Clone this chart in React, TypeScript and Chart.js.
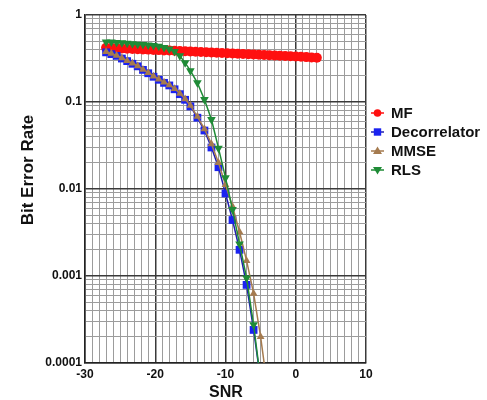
import React, { useEffect, useRef } from 'react';
import { Chart, registerables } from 'chart.js';

Chart.register(...registerables);

// ---- data ----
const snrMF = [-27, -26.25, -25.5, -24.75, -24, -23.25, -22.5, -21.75, -21, -20.25, -19.5, -18.75, -18, -17.25, -16.5, -15.75, -15, -14.25, -13.5, -12.75, -12, -11.25, -10.5, -9.75, -9, -8.25, -7.5, -6.75, -6, -5.25, -4.5, -3.75, -3, -2.25, -1.5, -0.75, 0, 0.75, 1.5, 2.25, 3];
const berMF = [0.42, 0.418, 0.415, 0.413, 0.41, 0.407, 0.405, 0.402, 0.4, 0.397, 0.395, 0.392, 0.39, 0.388, 0.385, 0.383, 0.38, 0.378, 0.376, 0.373, 0.371, 0.369, 0.366, 0.364, 0.362, 0.359, 0.357, 0.355, 0.352, 0.35, 0.348, 0.345, 0.343, 0.341, 0.338, 0.336, 0.333, 0.331, 0.328, 0.325, 0.322];

const snrDetectors = [-27, -26.25, -25.5, -24.75, -24, -23.25, -22.5, -21.75, -21, -20.25, -19.5, -18.75, -18, -17.25, -16.5, -15.75, -15, -14, -13, -12, -11, -10, -9, -8, -7, -6, -5];
const berDecorrelator = [0.372, 0.355, 0.339, 0.316, 0.295, 0.275, 0.257, 0.234, 0.214, 0.195, 0.18, 0.166, 0.155, 0.14, 0.123, 0.106, 0.089, 0.066, 0.047, 0.03, 0.0178, 0.0089, 0.0044, 0.002, 0.00079, 0.00024, 0.000063];
const berRLS = [0.49, 0.488, 0.484, 0.479, 0.473, 0.468, 0.462, 0.457, 0.452, 0.447, 0.437, 0.422, 0.407, 0.38, 0.339, 0.282, 0.229, 0.166, 0.107, 0.063, 0.0295, 0.0135, 0.0058, 0.00234, 0.00095, 0.000275, 0.000063];

const snrMMSE = [-27, -26.25, -25.5, -24.75, -24, -23.25, -22.5, -21.75, -21, -20.25, -19.5, -18.75, -18, -17.25, -16.5, -15.75, -15, -14, -13, -12, -11, -10, -9, -8, -7, -6, -5, -4];
const berMMSE = [0.378, 0.36, 0.343, 0.32, 0.298, 0.278, 0.26, 0.237, 0.217, 0.198, 0.183, 0.169, 0.157, 0.142, 0.125, 0.108, 0.091, 0.068, 0.049, 0.033, 0.02, 0.0112, 0.0063, 0.0032, 0.0015, 0.00063, 0.0002, 0.00005];

const xMajorTicks = [-30, -20, -10, 0, 10];
const yDecadeTicks = [0.0001, 0.001, 0.01, 0.1, 1];
const seriesNames = ['MF', 'Decorrelator', 'MMSE', 'RLS'];
const xTitle = 'SNR';
const yTitle = 'Bit Error Rate';

const COLORS = {
  MF: '#ff1010',
  Decorrelator: '#1a22f0',
  DecorrelatorLine: '#2020b0',
  MMSE: '#a57b4f',
  RLS: '#1f8b36',
};
const FONT = '"Liberation Sans", Arial, Helvetica, sans-serif';

const pts = (xs: number[], ys: number[]) => xs.map((x, i) => ({ x, y: ys[i] }));

const isDecade = (v: number) => {
  const l = Math.log10(v);
  return Math.abs(l - Math.round(l)) < 1e-6;
};

// minor tick positions built from the decade labels
const yAllTicks: number[] = [];
for (let i = 0; i < yDecadeTicks.length - 1; i++) {
  for (let s = 1; s <= 9; s++) yAllTicks.push(Number((s * yDecadeTicks[i]).toPrecision(6)));
}
yAllTicks.push(yDecadeTicks[yDecadeTicks.length - 1]);
const xAllTicks: number[] = [];
for (let v = xMajorTicks[0]; v <= xMajorTicks[xMajorTicks.length - 1]; v++) xAllTicks.push(v);

function drawMarker(ctx: CanvasRenderingContext2D, kind: string, x: number, y: number, color: string) {
  ctx.fillStyle = color;
  ctx.beginPath();
  if (kind === 'circle') {
    ctx.arc(x, y, 3.8, 0, Math.PI * 2);
  } else if (kind === 'rect') {
    ctx.rect(x - 3.7, y - 3.7, 7.4, 7.4);
  } else if (kind === 'up') {
    ctx.moveTo(x, y - 4.5);
    ctx.lineTo(x + 4.5, y + 3);
    ctx.lineTo(x - 4.5, y + 3);
    ctx.closePath();
  } else {
    ctx.moveTo(x, y + 4.5);
    ctx.lineTo(x + 4.5, y - 3);
    ctx.lineTo(x - 4.5, y - 3);
    ctx.closePath();
  }
  ctx.fill();
}

const overlayPlugin = {
  id: 'overlay',
  afterDraw(chart: any) {
    const ctx: CanvasRenderingContext2D = chart.ctx;
    ctx.save();
    // legend
    const kinds = ['circle', 'rect', 'up', 'down'];
    const cols = [COLORS.MF, COLORS.Decorrelator, COLORS.MMSE, COLORS.RLS];
    const lineCols = [COLORS.MF, COLORS.DecorrelatorLine, COLORS.MMSE, COLORS.RLS];
    const ys = [113, 132, 151, 170];
    ctx.font = `bold 15px ${FONT}`;
    ctx.textBaseline = 'middle';
    ctx.textAlign = 'left';
    seriesNames.forEach((name, i) => {
      ctx.strokeStyle = lineCols[i];
      ctx.lineWidth = 1.5;
      ctx.beginPath();
      ctx.moveTo(371, ys[i]);
      ctx.lineTo(384, ys[i]);
      ctx.stroke();
      drawMarker(ctx, kinds[i], 377.5, ys[i], cols[i]);
      ctx.fillStyle = '#111';
      ctx.fillText(name, 391, ys[i] + 1);
    });
    // axis titles
    ctx.fillStyle = '#111';
    ctx.font = `bold 16px ${FONT}`;
    ctx.textAlign = 'center';
    ctx.fillText(xTitle, 226, 393);
    ctx.translate(28, 170);
    ctx.rotate(-Math.PI / 2);
    ctx.font = `bold 17px ${FONT}`;
    ctx.fillText(yTitle, 0, 0);
    ctx.restore();
  },
};

export default function App() {
  const ref = useRef<HTMLCanvasElement>(null);
  useEffect(() => {
    document.body.style.margin = '0';
    const canvas = ref.current!;
    const common = { tension: 0, borderWidth: 1.5, pointBorderWidth: 0 };
    const chart = new Chart(canvas, {
      type: 'line',
      data: {
        datasets: [
          {
            label: seriesNames[0], data: pts(snrMF, berMF), ...common,
            borderColor: COLORS.MF, backgroundColor: COLORS.MF,
            pointStyle: 'circle', pointRadius: 5, order: 3,
          },
          {
            label: seriesNames[1], data: pts(snrDetectors, berDecorrelator), ...common,
            borderColor: COLORS.DecorrelatorLine, backgroundColor: COLORS.Decorrelator,
            pointStyle: 'rect', pointRadius: 5.5, order: 2,
          },
          {
            label: seriesNames[2], data: pts(snrMMSE, berMMSE), ...common,
            borderColor: COLORS.MMSE, backgroundColor: COLORS.MMSE,
            pointStyle: 'triangle', pointRadius: 4.5, order: 1,
          },
          {
            label: seriesNames[3], data: pts(snrDetectors, berRLS), ...common,
            borderColor: COLORS.RLS, backgroundColor: COLORS.RLS,
            pointStyle: 'triangle', pointRotation: 180, pointRadius: 5, order: 0,
          },
        ] as any,
      },
      options: {
        animation: false,
        responsive: false,
        maintainAspectRatio: false,
        layout: { padding: { top: 15, right: 121, left: 0, bottom: 0 } },
        plugins: { legend: { display: false }, tooltip: { enabled: false } },
        scales: {
          x: {
            type: 'linear',
            min: xMajorTicks[0],
            max: xMajorTicks[xMajorTicks.length - 1],
            afterBuildTicks: (scale: any) => { scale.ticks = xAllTicks.map((v) => ({ value: v })); },
            afterFit: (scale: any) => { scale.height = 37; },
            ticks: {
              autoSkip: false,
              maxRotation: 0,
              padding: 4,
              color: '#111',
              font: { family: FONT, size: 12, weight: 'bold' },
              callback: (v: any) => (xMajorTicks.includes(Number(v)) ? String(v) : ''),
            },
            grid: {
              drawTicks: false,
              color: (c: any) => (c.tick && xMajorTicks.includes(c.tick.value) ? '#3a3a3a' : '#9c9c9c'),
              lineWidth: (c: any) => (c.tick && xMajorTicks.includes(c.tick.value) ? 1.5 : 1),
            },
            border: { display: true, color: '#222', width: 1.5 },
          },
          y: {
            type: 'logarithmic',
            min: yDecadeTicks[0],
            max: yDecadeTicks[yDecadeTicks.length - 1],
            afterBuildTicks: (scale: any) => { scale.ticks = yAllTicks.map((v) => ({ value: v })); },
            afterFit: (scale: any) => { scale.width = 85; },
            ticks: {
              autoSkip: false,
              padding: 3,
              color: '#111',
              font: { family: FONT, size: 12, weight: 'bold' },
              callback: (v: any) => (isDecade(Number(v)) ? String(Number(v)) : ''),
            },
            grid: {
              drawTicks: false,
              color: (c: any) => (c.tick && isDecade(c.tick.value) ? '#3a3a3a' : '#9c9c9c'),
              lineWidth: (c: any) => (c.tick && isDecade(c.tick.value) ? 1.5 : 1),
            },
            border: { display: true, color: '#222', width: 1.5 },
          },
        },
      } as any,
      plugins: [overlayPlugin],
    });
    return () => chart.destroy();
  }, []);
  return (
    <div style={{ position: 'fixed', left: 0, top: 0, width: 487, height: 400, background: '#fff' }}>
      <canvas ref={ref} width={487} height={400} style={{ width: 487, height: 400 }} />
    </div>
  );
}
